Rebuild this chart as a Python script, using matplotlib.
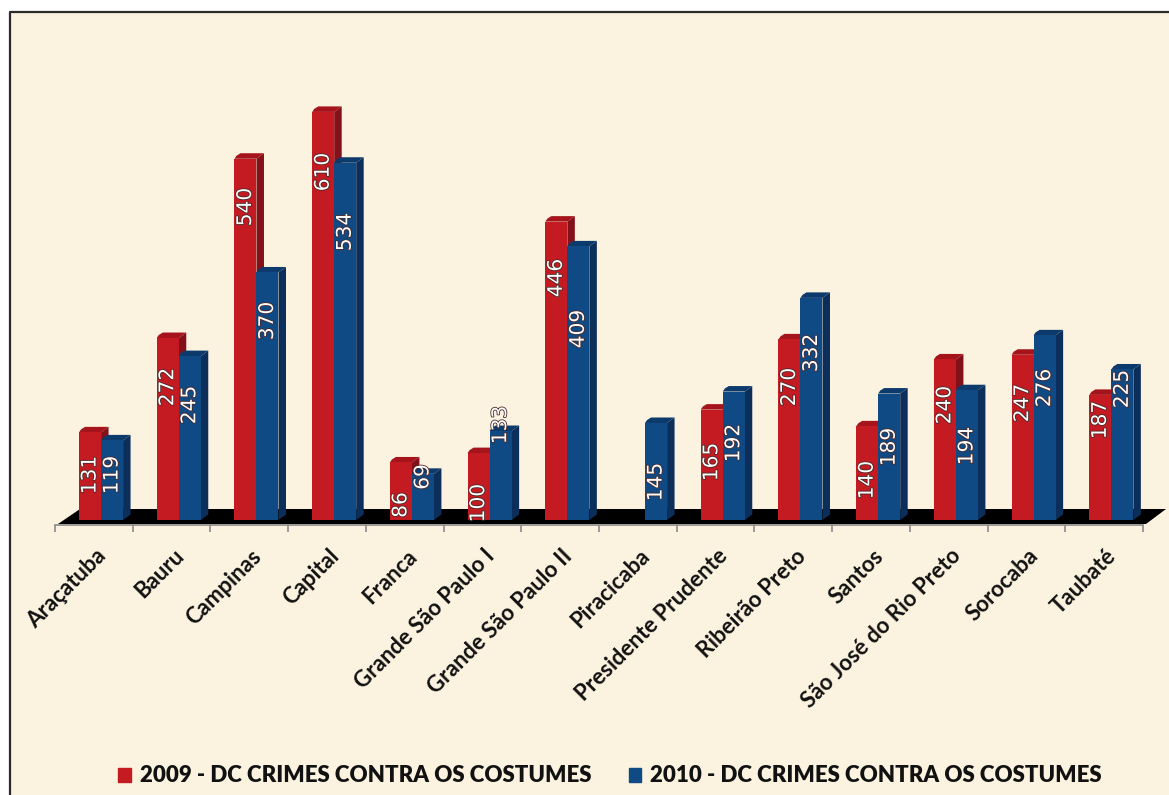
import matplotlib
matplotlib.use("Agg")
import matplotlib.pyplot as plt
import matplotlib.patheffects as pe
from matplotlib.patches import Polygon, Rectangle, Patch
from matplotlib.transforms import ScaledTranslation

categories = ["Araçatuba", "Bauru", "Campinas", "Capital", "Franca",
              "Grande São Paulo I", "Grande São Paulo II", "Piracicaba",
              "Presidente Prudente", "Ribeirão Preto", "Santos",
              "São José do Rio Preto", "Sorocaba", "Taubaté"]
series_2009 = [131, 272, 540, 610, 86, 100, 446, None, 165, 270, 140, 240, 247, 187]
series_2010 = [119, 245, 370, 534, 69, 133, 409, 145, 192, 332, 189, 194, 276, 225]
name_2009 = "2009 - DC CRIMES CONTRA OS COSTUMES"
name_2010 = "2010 - DC CRIMES CONTRA OS COSTUMES"

# label centres, in image pixels from the top (the chart places them unevenly)
label_px_2009 = [475, 387, 207, 172, 505, 503, 278, None, 462, 387, 480, 405, 403, 420]
label_px_2010 = [475, 405, 321, 232, 477, 425, 329, 482, 443, 353, 447, 446, 388, 389]

W, H = 1169, 795
AX_L, AX_R, BASE, TOP = 55, 1143, 520, 12
PX_PER_UNIT = 0.669
CAT_PX = (AX_R - AX_L) / len(categories)
BAR_PX = 22
SHIFT_PX = 7.2      # pair centre sits right of the category centre
DX, DY = 7.5, 5.5   # 3-D depth in pixels
BG = "#FBF3DF"

fig = plt.figure(figsize=(W / 100, H / 100), dpi=100, facecolor="white")
fig.patches.append(Rectangle((10 / W, 0), 1 - 10 / W, 1 - 12 / H, transform=fig.transFigure,
                             facecolor=BG, edgecolor="none", zorder=-5))
fig.add_artist(plt.Line2D([10 / W, 10 / W, 1], [0, 1 - 12 / H, 1 - 12 / H], color="#2a2a2a", lw=1.6))

ax = fig.add_axes([AX_L / W, 1 - BASE / H, (AX_R - AX_L) / W, (BASE - TOP) / H])
ax.patch.set_alpha(0)
ax.set_xlim(0, len(categories))
ax.set_ylim(0, (BASE - TOP) / PX_PER_UNIT)
ux = 1 / CAT_PX
uy = 1 / PX_PER_UNIT

# floor
ax.add_patch(Polygon([(3 * ux, -4 * uy), (len(categories) + 3 * ux, -4 * uy),
                      (len(categories) + 23 * ux, 11 * uy), (25 * ux, 11 * uy)],
                     closed=True, facecolor="black", edgecolor="none", clip_on=False, zorder=1))


def draw_series(values, offset_px, front, top, side, z):
    for i, v in enumerate(values):
        if v is None:
            continue
        x0 = i + 0.5 + offset_px * ux
        x1 = x0 + BAR_PX * ux
        ax.bar(x0, v, width=BAR_PX * ux, align="edge", color=front, linewidth=0, zorder=z + 0.2, clip_on=False)
        ax.add_patch(Polygon([(x1, 0), (x1 + DX * ux, DY * uy), (x1 + DX * ux, v + DY * uy), (x1, v)],
                             closed=True, facecolor=side, edgecolor="none", clip_on=False, zorder=z))
        ax.add_patch(Polygon([(x0, v), (x0 + 2 * ux, v + 3 * uy), (x0 + 6 * ux, v + DY * uy),
                              (x1 + DX * ux, v + DY * uy), (x1, v)],
                             closed=True, facecolor=top, edgecolor="none", clip_on=False, zorder=z + 0.1))


def draw_labels(values, px, offset_px, z):
    for i, (v, p) in enumerate(zip(values, px)):
        if v is None:
            continue
        xc = i + 0.5 + (offset_px + BAR_PX / 2) * ux
        ax.text(xc, (BASE - p) * uy, str(v), rotation=90, ha="center", va="center",
                color="white", fontsize=14.5, family="DejaVu Sans", zorder=z, clip_on=False,
                path_effects=[pe.withStroke(linewidth=1.2, foreground="#4a2a2a")])


RED, RED_TOP, RED_SIDE = "#C41A22", "#A5141B", "#84101A"
BLUE, BLUE_TOP, BLUE_SIDE = "#0F4A85", "#0C3A6C", "#0B2E5A"
draw_series(series_2009, SHIFT_PX - BAR_PX, RED, RED_TOP, RED_SIDE, 2)
draw_series(series_2010, SHIFT_PX, BLUE, BLUE_TOP, BLUE_SIDE, 3)
draw_labels(series_2009, label_px_2009, SHIFT_PX - BAR_PX, 5)
draw_labels(series_2010, label_px_2010, SHIFT_PX, 5)

# axis
for s in ("top", "left", "right"):
    ax.spines[s].set_visible(False)
ax.spines["bottom"].set_position(("outward", 3.6))
ax.spines["bottom"].set_color("#8a8a8a")
ax.spines["bottom"].set_linewidth(1.2)
ax.set_yticks([])
ax.set_xticks(range(len(categories) + 1))
ax.set_xticklabels([])
ax.tick_params(axis="x", which="major", length=5, width=1.2, color="#8a8a8a")
ax.set_xticks([i + 0.5 for i in range(len(categories))], minor=True)
ax.set_xticklabels(categories, minor=True, rotation=45, ha="right", va="center",
                   rotation_mode="anchor", fontsize=16, family="Lato", fontweight="bold", color="#111111")
ax.tick_params(axis="x", which="minor", length=0, pad=20)
shift = ScaledTranslation(9 / 100, 0, fig.dpi_scale_trans)
for lab in ax.get_xticklabels(minor=True):
    lab.set_transform(lab.get_transform() + shift)

# legend
leg = fig.legend(handles=[Patch(color=RED, label=name_2009), Patch(color=BLUE, label=name_2010)],
                 ncol=2, frameon=False, loc="center", bbox_to_anchor=(610 / W, 1 - 776 / H),
                 prop={"family": "Lato", "weight": "heavy", "size": 16},
                 handlelength=0.55, handleheight=0.6, handletextpad=0.4, columnspacing=1.7,
                 labelcolor="#111111")

fig.savefig("out.png", dpi=100, facecolor="white")
